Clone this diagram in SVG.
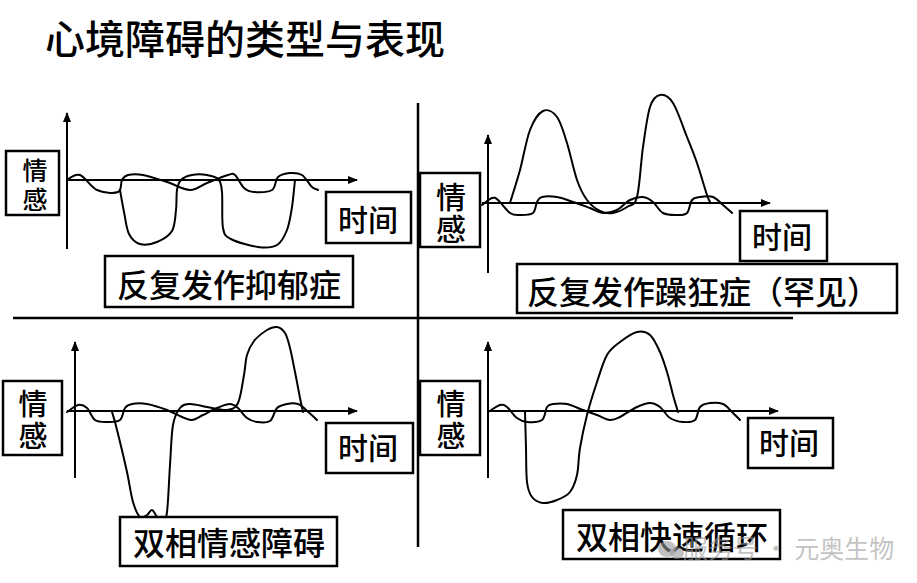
<svg xmlns="http://www.w3.org/2000/svg" width="917" height="583" viewBox="0 0 917 583">
<defs>
<marker id="arr" markerWidth="10" markerHeight="8" refX="9" refY="4" orient="auto" markerUnits="userSpaceOnUse">
<path d="M0,0 L10,4 L0,8 Z" fill="#000"/>
</marker>
<style>
.t{font-family:"Noto Sans CJK SC","Liberation Sans",sans-serif;font-weight:500;fill:#000;text-anchor:middle;dominant-baseline:central}
.box{fill:#fff;stroke:#000;stroke-width:2.5}
.ax{stroke:#000;stroke-width:2;fill:none;marker-end:url(#arr)}
.cv{stroke:#000;stroke-width:2;fill:none;stroke-linejoin:round;stroke-linecap:round}
.div{stroke:#000;stroke-width:2.5}
.wm{font-family:"Noto Sans CJK SC","Liberation Sans",sans-serif;fill:#9a9a9a;fill-opacity:0.6;font-size:25px}
</style>
</defs>
<rect width="917" height="583" fill="#fff"/>
<text id="title" x="45" y="54" style="font-family:'Noto Sans CJK SC','Liberation Sans',sans-serif;font-weight:500;font-size:40px">心境障碍的类型与表现</text>

<g id="dividers">
<line class="div" x1="418" y1="103" x2="418" y2="547"/>
<line class="div" x1="13" y1="318" x2="793" y2="318"/>
</g>

<g id="axes">
<line class="ax" x1="67" y1="249" x2="67" y2="113"/>
<line class="ax" x1="67" y1="180" x2="357" y2="180"/>
<line class="ax" x1="488" y1="273" x2="488" y2="135"/>
<line class="ax" x1="482" y1="203" x2="770" y2="203"/>
<line class="ax" x1="75" y1="478" x2="75" y2="342"/>
<line class="ax" x1="67" y1="411" x2="357" y2="411"/>
<line class="ax" x1="488" y1="478" x2="488" y2="342"/>
<line class="ax" x1="488" y1="411" x2="778" y2="411"/>
</g>

<g id="connectors">
<path class="cv" d="M67,180 C70,178 75,173.3 80,175 S90.7,187.2 97,190 S113.8,193.7 118,192 S120.3,182.8 122,180 S124.5,175.8 128,175 S136.5,173.8 143,175 S159.2,179.5 167,182 S183.3,189.8 190,190 S200.7,185.5 207,183 S223.3,176.3 228,175 S232.3,172.8 235,175 S240.8,185.2 244,188 S249.3,191.7 254,192 S268,192.5 272,190 S275,179.8 278,177 S286,173.3 290,173 S298.3,172.7 302,175 S309.3,184.5 312,187 S316,189 318,190"/>
<path class="cv" d="M120,190 C121.3,197.3 122.5,204.7 124,212 S126.3,228.7 129,234 S135.3,242.7 140,244 S151.7,244.2 157,242 S168.8,236.3 172,231 S175.2,216.8 176,210 S176.2,195 177,190 S178.5,182.5 181,180 S187.7,175.8 192,175 S202.7,174.3 207,175 S215.5,176.2 218,179 S221.2,183.8 222,192 S221.5,220.2 223,228 S225.2,235.8 231,239 S250.3,246 258,247 S272.2,247.8 277,245 S284.5,236.3 287,230 S290.7,215.3 292,207 S294,189 295,180"/>
<path class="cv" d="M482,205 C485.3,202.7 489.3,198.8 492,198 S495,197.5 498,200 S506.3,210.5 510,213 S516.2,215 520,215 S530.2,215.2 533,213 S535.5,204.7 537,202 S538.7,197.8 542,197 S551.8,196.2 557,197 S567.5,200.2 573,202 S585,206.2 590,208 S598.5,212.7 603,213 S612.5,212.2 617,210 S625.7,202.2 630,200 S639.2,196.7 643,197 S649.7,199.3 653,202 S659,210.8 663,213 S673,215 677,215 S684.5,215.5 687,213 S689.8,202.7 692,200 S696.5,197.5 700,197 S709.2,195.7 713,197 S719.8,202.3 723,205 S729,210.3 732,213"/>
<path class="cv" d="M510,203 C513.3,192 516.7,182.2 520,170 S526.2,139.8 530,130 S538.5,113.2 543,111 S553,111.7 557,117 S563.7,132.5 567,143 S573.7,170.5 577,180 S583.2,194.8 587,200 S595.7,208.8 600,211 S608.5,213.7 613,213 S623,209.7 627,207 S634.3,207 637,197 S640.8,162 643,147 S647.2,115.7 650,107 S656.2,95.7 660,95 S668.5,96 673,103 S683,127 687,137 S693.7,153.3 697,163 S704.8,188.5 707,195 S709,199.7 710,202"/>
<path class="cv" d="M67,412 C70.7,409.7 74.7,405.7 78,405 S84.2,405.5 87,408 S91.7,417.7 95,420 S102.8,422 107,422 S117,422.3 120,420 S123,410.7 125,408 S128.3,404.7 132,404 S141.2,403 147,404 S161.2,407.8 167,410 S177.8,415.3 182,417 S188.5,420.3 192,420 S198.8,417 203,415 S212.5,409.8 217,408 S226.5,404 230,404 S235.2,405.7 238,408 S243.8,415.7 247,418 S253.2,421.5 257,422 S266.7,423.3 270,421 S274.2,410.8 277,408 S283.5,404.7 287,404 S295,403.2 298,404 S301.8,406.3 305,409 S313,416.3 317,420"/>
<path class="cv" d="M112,412 C113,415.3 113.7,417 115,422 S118,433.7 120,442 S124.8,462 127,472 S130.8,494.5 133,502 S137.7,514.8 140,517 S145,516.2 147,515 S150.3,509.7 152,510 S155.3,514.8 157,517 S160.3,523.8 162,523 S165.7,521.7 167,512 S169,479.5 170,465 S171.3,434.5 173,425 S177.2,411.5 180,408 S185.5,404.2 190,404 S200.8,406 207,407 S221.8,410.7 227,410 S235.2,408.8 238,403 S242.5,383 244,375 S245.3,360.7 247,355 S250.7,345.2 254,341 S263.2,332.3 267,330 S274,326.5 277,327 S282.8,329.5 285,333 S288.3,341.5 290,348 S293.3,363.7 295,372 S298.7,391.3 300,398 S302,407.3 303,412"/>
<path class="cv" d="M488,412 C492,409.7 496.8,405.8 500,405 S504.2,404.8 507,407 S513.7,415.5 517,418 S522.8,421.7 527,422 S538.7,422.5 542,420 S545.2,409.7 547,407 S549.7,404.5 553,404 S562,403 567,404 S578,408.2 583,410 S592.5,413.3 597,415 S606.2,419.7 610,420 S615.5,419.2 620,417 S632,409.3 637,407 S646.2,403 650,403 S656.7,404.5 660,407 S666.2,415.5 670,418 S678.8,421.7 683,422 S692.2,422.5 695,420 S697.5,409.8 700,407 S706.2,403.5 710,403 S719.3,402.5 723,404 S729.2,409.3 732,412 S737.3,417.3 740,420"/>
<path class="cv" d="M525,412 C525.3,424 525.7,436.3 526,448 S526,473.8 527,482 S529.3,493.5 532,497 S538.8,502.5 543,503 S552.5,501.8 557,500 S566.7,496.2 570,492 S575.3,482.3 577,475 S578.3,458 580,448 S584.2,426 587,415 S593.7,392 597,382 S603.2,361.7 607,355 S615,345.8 620,342 S632,333.2 637,332 S646.2,331.7 650,335 S657.2,345.8 660,352 S664.8,364.8 667,372 S671.2,388.3 673,395 S676.3,406.3 678,412"/>
</g>

<g id="q1-ylabel"><rect class="box" x="6" y="151" width="53" height="64"/><text class="t" x="35" y="168.5" font-size="25">情</text><text class="t" x="35" y="198" font-size="25">感</text></g>
<g id="q1-xlabel"><rect class="box" x="326" y="192" width="85" height="51"/><text class="t" x="368" y="217.5" font-size="30">时间</text></g>
<g id="q1-title"><rect class="box" x="105" y="256" width="248" height="51"/><text class="t" x="229" y="282.5" font-size="32">反复发作抑郁症</text></g>

<g id="q2-ylabel"><rect class="box" x="420" y="173" width="60" height="74"/><text class="t" x="451" y="195" font-size="30">情</text><text class="t" x="451" y="226.5" font-size="30">感</text></g>
<g id="q2-xlabel"><rect class="box" x="740" y="211" width="87" height="50"/><text class="t" x="782" y="235" font-size="30">时间</text></g>
<g id="q2-title"><rect class="box" x="517" y="264" width="380" height="49"/><text class="t" x="527" y="289.5" font-size="32" style="text-anchor:start">反复发作躁狂症（罕见）</text></g>

<g id="q3-ylabel"><rect class="box" x="3" y="381" width="59" height="74"/><text class="t" x="33" y="401.5" font-size="29">情</text><text class="t" x="33" y="433.5" font-size="29">感</text></g>
<g id="q3-xlabel"><rect class="box" x="326" y="423" width="87" height="50"/><text class="t" x="368" y="446" font-size="30">时间</text></g>
<g id="q3-title"><rect class="box" x="120" y="517" width="217" height="49"/><text class="t" x="229" y="540.5" font-size="32">双相情感障碍</text></g>

<g id="q4-ylabel"><rect class="box" x="420" y="381" width="60" height="74"/><text class="t" x="451" y="401.5" font-size="29">情</text><text class="t" x="451" y="433.5" font-size="29">感</text></g>
<g id="q4-xlabel"><rect class="box" x="748" y="418" width="85" height="50"/><text class="t" x="789" y="441" font-size="30">时间</text></g>
<g id="q4-title"><rect class="box" x="563" y="510" width="217" height="49"/><text class="t" x="672" y="534.5" font-size="32">双相快速循环</text></g>

<g id="watermark">
<ellipse cx="667" cy="549" rx="9" ry="8" fill="#9a9a9a" fill-opacity="0.6"/>
<ellipse cx="677" cy="553" rx="7" ry="6" fill="#9a9a9a" fill-opacity="0.6"/>
<text class="wm" x="683" y="558">服务号 · 元奥生物</text>
</g>
</svg>
